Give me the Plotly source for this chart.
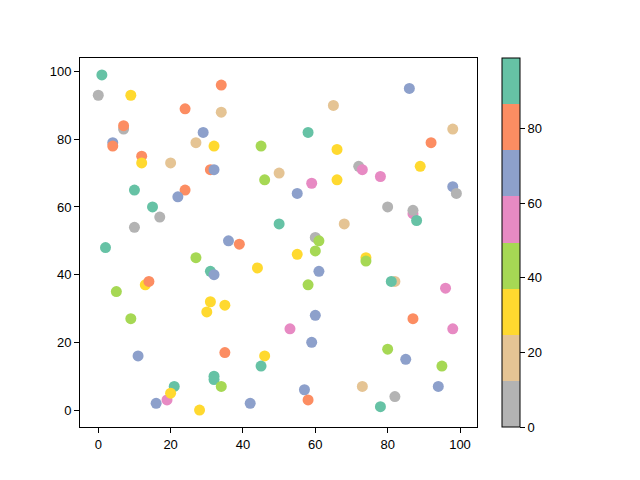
import plotly.graph_objects as go

# Point data (x, y, colour value)
xs = [1, 0, 9, 34, 24, 34, 7, 7, 29, 4, 4, 27, 32, 45, 12, 12, 20, 31, 32, 46,
      50, 10, 24, 22, 15, 17, 10, 50, 36, 39, 2,
      86, 65, 98, 58, 92, 66, 89, 72, 73, 78, 59, 66, 55, 98, 99, 80, 87, 87, 88,
      68, 60, 61,
      27, 44, 31, 32, 13, 14, 5, 31, 35, 30, 9, 11, 35, 46, 45, 32, 32, 34, 21,
      19, 20, 16, 42, 28,
      55, 60, 74, 74, 61, 58, 82, 81, 96, 87, 60, 53, 98, 59, 80, 85, 95, 73, 94,
      57, 82, 58, 78]
ys = [99, 93, 93, 96, 89, 88, 83, 84, 82, 79, 78, 79, 78, 78, 75, 73, 73, 71, 71, 68,
      70, 65, 65, 63, 60, 57, 54, 55, 50, 49, 48,
      95, 90, 83, 82, 79, 77, 72, 72, 71, 69, 67, 68, 64, 66, 64, 60, 58, 59, 56,
      55, 51, 50,
      45, 42, 41, 40, 37, 38, 35, 32, 31, 29, 27, 16, 17, 16, 13, 10, 9, 7, 7,
      3, 5, 2, 2, 0,
      46, 47, 45, 44, 41, 37, 38, 38, 36, 27, 28, 24, 24, 20, 18, 15, 13, 7, 7,
      6, 4, 3, 1]
cs = [93, 5, 30, 80, 80, 18, 5, 80, 68, 68, 80, 18, 30, 43, 80, 30, 18, 80, 68, 43,
      18, 93, 80, 68, 93, 5, 5, 93, 68, 80, 93,
      68, 18, 18, 93, 80, 30, 30, 5, 55, 55, 55, 30, 68, 68, 5, 5, 55, 5, 93,
      18, 5, 43,
      43, 30, 93, 68, 30, 80, 43, 30, 30, 30, 43, 68, 80, 30, 93, 93, 93, 43, 93,
      55, 30, 68, 68, 30,
      30, 43, 30, 43, 68, 43, 18, 93, 55, 80, 68, 55, 55, 68, 43, 68, 43, 18, 68,
      68, 5, 80, 93]

x_ticks = [0, 20, 40, 60, 80, 100]
y_ticks = [0, 20, 40, 60, 80, 100]
cbar_ticks = [0, 20, 40, 60, 80]

set2_r = ["#b3b3b3", "#e5c494", "#ffd92f", "#a6d854",
          "#e78ac3", "#8da0cb", "#fc8d62", "#66c2a5"]
n = len(set2_r)
colorscale = []
for i, col in enumerate(set2_r):
    colorscale.append([i / n, col])
    colorscale.append([(i + 1) / n, col])

font = dict(family="Liberation Sans Narrow, Liberation Sans, sans-serif", size=13, color="black")

fig = go.Figure(go.Scatter(
    x=xs, y=ys, mode="markers",
    marker=dict(size=11, color=cs, colorscale=colorscale, cmin=0, cmax=99,
                line=dict(width=0), opacity=1,
                colorbar=dict(
                    x=1.063, xanchor="left", xpad=0, ypad=0,
                    y=0.5, yanchor="middle", len=1, lenmode="fraction",
                    thickness=18, thicknessmode="pixels",
                    outlinewidth=1, outlinecolor="black",
                    tickvals=cbar_ticks, ticks="outside", ticklen=5,
                    tickcolor="black", tickfont=font)),
    showlegend=False,
))

axis_common = dict(showgrid=False, zeroline=False, showline=True, linecolor="black",
                   linewidth=1, mirror=True, ticks="outside", ticklen=5,
                   tickcolor="black", tickfont=font)

fig.update_layout(
    width=640, height=480,
    margin=dict(l=72, r=171, t=50, b=61),
    paper_bgcolor="white", plot_bgcolor="white",
    xaxis=dict(range=[-5.05, 104.7], tickvals=x_ticks, **axis_common),
    yaxis=dict(range=[-5.0, 104.0], tickvals=y_ticks, **axis_common),
    font=font,
)

fig.write_html("out.html")
